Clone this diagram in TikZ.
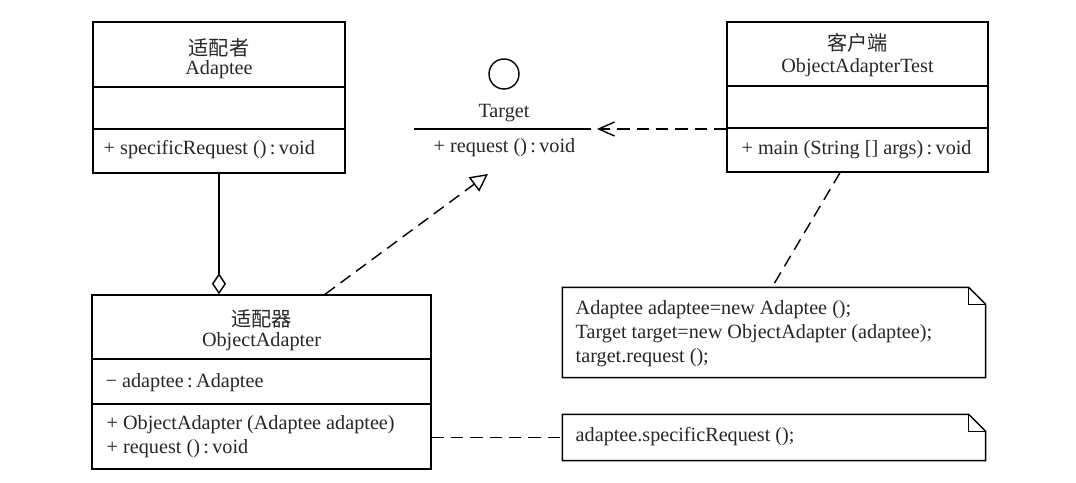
\documentclass[tikz,border=0pt]{standalone}
\usepackage{fontspec}
\setmainfont{Liberation Serif}
\newfontfamily\cjk{Noto Sans CJK SC}
\usetikzlibrary{arrows.meta}

\begin{document}
\begin{tikzpicture}[x=0.02cm, y=-0.02cm, line width=0.8pt,
		every node/.style={font=\fontsize{11.5}{13.6}\selectfont, text=black!85},
		classbox/.style={draw, rectangle, inner sep=0pt},
		notebox/.style={rectangle, inner sep=0pt},
		member/.style={anchor=west, inner sep=0pt, align=left},
		dashline/.style={dash pattern=on 7pt off 4pt}]
	\useasboundingbox (0,0) rectangle (1076,483);
	% Adaptee
	\node[classbox, minimum width=5.04cm, minimum height=3.02cm] (adaptee) at (219,97.5) {};
	\draw (93,87) -- (345,87);
	\draw (93,129) -- (345,129);
	\node (adapteecn) at (219,48) {\cjk 适配者};
	\node (adapteename) at (219,70) {Adaptee};
	\node[member] (adapteeop) at (103,150) {+ specificRequest ()\,:\,void};
	% Target
	\node[circle, draw, minimum size=0.6cm, inner sep=0pt] (targeticon) at (504,74) {};
	\node (targetname) at (504,113) {Target};
	\draw (414,129) -- (591,129);
	\node[member] (targetop) at (433,148) {+ request ()\,:\,void};
	\coordinate (targetend) at (597,129);
	\coordinate (targettip) at (488,174);
	% client
	\node[classbox, minimum width=5.22cm, minimum height=3cm] (client) at (857.5,97) {};
	\draw (727,86) -- (988,86);
	\draw (727,128) -- (988,128);
	\node (clientcn) at (857.5,43) {\cjk 客户端};
	\node (clientname) at (857.5,68) {ObjectAdapterTest};
	\node[member] (clientop) at (741,150) {+ main (String [] args)\,:\,void};
	% ObjectAdapter
	\node[classbox, minimum width=6.78cm, minimum height=3.48cm] (objadapter) at (261.5,382) {};
	\draw (92,359) -- (431,359);
	\draw (92,404) -- (431,404);
	\node (objadaptercn) at (261.5,319) {\cjk 适配器};
	\node (objadaptername) at (261.5,342) {ObjectAdapter};
	\node[member] (objadapterattr) at (105,383) {− adaptee\,:\,Adaptee};
	\node[member] (objadapterop) at (106,436.5) {+ ObjectAdapter (Adaptee adaptee)\\+ request ()\,:\,void};
	% notes
	\node[notebox, minimum width=8.44cm, minimum height=1.78cm] (note1) at (774,332.5) {};
	\draw (note1.north west) -- ([xshift=-0.34cm]note1.north east) -- ([yshift=-0.34cm]note1.north east)
		-- (note1.south east) -- (note1.south west) -- cycle;
	\draw ([xshift=-0.34cm]note1.north east) |- ([yshift=-0.34cm]note1.north east);
	\node[member] (note1text) at (575,334) {Adaptee adaptee=new Adaptee ();\\Target target=new ObjectAdapter (adaptee);\\target.request ();};
	\node[notebox, minimum width=8.44cm, minimum height=0.9cm] (note2) at (774,437.5) {};
	\draw (note2.north west) -- ([xshift=-0.34cm]note2.north east) -- ([yshift=-0.34cm]note2.north east)
		-- (note2.south east) -- (note2.south west) -- cycle;
	\draw ([xshift=-0.34cm]note2.north east) |- ([yshift=-0.34cm]note2.north east);
	\node[member] (note2text) at (575,437) {adaptee.specificRequest ();};
	% connectors
	\draw[-{Diamond[open, length=12pt, width=8pt]}] (adaptee.south) -- (objadapter.north -| adaptee.south);
	\draw[dashline, -{Triangle[open, length=10pt, width=10pt]}] ([xshift=1.27cm]objadapter.north) -- (targettip);
	\draw[dashline, -{Straight Barb[length=9pt, width=8pt]}] (client.west |- targetend) -- (targetend);
	\draw[dashline] ([xshift=-0.35cm]client.south) -- ([xshift=-0.04cm]note1.north);
	\draw[dashline] (objadapter.east |- note2.west) -- (note2.west);
\end{tikzpicture}
\end{document}
